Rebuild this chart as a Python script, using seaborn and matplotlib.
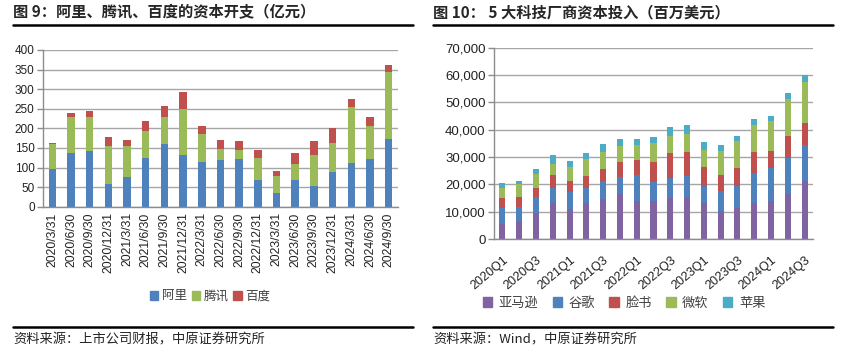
import numpy as np
import pandas as pd
import matplotlib
matplotlib.use("Agg")
import matplotlib.pyplot as plt
import seaborn as sns
from matplotlib.patches import Rectangle
from matplotlib.lines import Line2D
from matplotlib.ticker import FuncFormatter

# ---- Left chart data (亿元) ----
dates = ["2020/3/31", "2020/6/30", "2020/9/30", "2020/12/31", "2021/3/31", "2021/6/30",
         "2021/9/30", "2021/12/31", "2022/3/31", "2022/6/30", "2022/9/30", "2022/12/31",
         "2023/3/31", "2023/6/30", "2023/9/30", "2023/12/31", "2024/3/31", "2024/6/30",
         "2024/9/30"]
ali = [97, 136, 142, 59, 77, 125, 159, 133, 115, 119, 121, 69, 36, 69, 52, 89, 112, 121, 173]
tencent = [63, 94, 87, 95, 77, 69, 70, 117, 70, 29, 24, 56, 43, 40, 80, 74, 143, 86, 171]
baidu = [3, 10, 16, 23, 16, 26, 28, 42, 21, 23, 22, 20, 13, 27, 35, 37, 20, 23, 17]

# ---- Right chart data (百万美元) ----
quarters = ["2020Q1", "2020Q2", "2020Q3", "2020Q4", "2021Q1", "2021Q2", "2021Q3", "2021Q4",
            "2022Q1", "2022Q2", "2022Q3", "2022Q4", "2023Q1", "2023Q2", "2023Q3", "2023Q4",
            "2024Q1", "2024Q2", "2024Q3"]
amazon = [5500, 6500, 9600, 13000, 11100, 13000, 14600, 16500, 13800, 14000, 15000, 15500,
          13000, 10400, 11500, 13300, 14000, 16300, 21100]
google = [6000, 5300, 5600, 5700, 6100, 5700, 6700, 6300, 9700, 7000, 7400, 7700,
          6400, 7000, 7800, 11000, 12000, 13200, 13200]
facebook = [3600, 3600, 3600, 4600, 4100, 4300, 4400, 5400, 5400, 7300, 9200, 8600,
            6800, 6100, 6700, 7500, 6200, 8100, 8000]
microsoft = [3700, 4600, 5000, 4000, 5000, 6400, 6000, 5800, 5400, 6900, 6200, 6600,
             6400, 8800, 9700, 9800, 10800, 13700, 15000]
apple = [1800, 1300, 1700, 3600, 2200, 1900, 3100, 2700, 2400, 2200, 3300, 3300,
         3000, 2100, 2000, 2300, 2100, 2200, 2800]

left_names = ["阿里", "腾讯", "百度"]
right_names = ["亚马逊", "谷歌", "脸书", "微软", "苹果"]

BLUE, GREEN, RED, PURPLE, CYAN = "#4F81BD", "#9BBB59", "#C0504D", "#8064A2", "#4BACC6"

sns.set_style("white")
plt.rcParams['font.family'] = ['Liberation Sans', 'Noto Sans CJK SC']
CJK = ['Noto Sans CJK SC', 'Liberation Sans']

W, H = 845, 352
fig = plt.figure(figsize=(W / 100, H / 100), dpi=100)
ax1 = fig.add_axes([43 / W, 1 - 206.7 / H, (398 - 43) / W, (206.7 - 50) / H])
ax2 = fig.add_axes([494 / W, 1 - 239 / H, (813 - 494) / W, (239 - 47.7) / H])


def stacked(ax, cats, series, colors, width):
    cum = np.zeros(len(cats))
    cums = []
    for s in series:
        cum = cum + np.asarray(s, dtype=float)
        cums.append(cum.copy())
    for c, col in reversed(list(zip(cums, colors))):
        sns.barplot(x=cats, y=c, order=cats, color=col, width=width, ax=ax,
                    errorbar=None, saturation=1, linewidth=0)


def style_axis(ax):
    for s in ["top", "right"]:
        ax.spines[s].set_visible(False)
    for s in ["left", "bottom"]:
        ax.spines[s].set_color("#8C8C8C")
        ax.spines[s].set_linewidth(1.0)
    ax.yaxis.grid(True, color="#A6A6A6", lw=1.0)
    ax.set_axisbelow(True)
    ax.set_xlabel("")
    ax.set_ylabel("")
    ax.set_xlim(-0.5, 18.5)
    ax.set_xticks(np.arange(-0.5, 19, 1), minor=True)
    ax.tick_params(axis="x", which="minor", length=4, color="#8C8C8C", width=1)
    ax.tick_params(axis="x", which="major", length=0)
    ax.tick_params(axis="y", length=4, color="#8C8C8C", width=1, left=True)


# Left chart
stacked(ax1, dates, [ali, tencent, baidu], [BLUE, GREEN, RED], 0.4)
style_axis(ax1)
ax1.set_ylim(0, 400)
ax1.set_yticks(range(0, 401, 50))
ax1.set_xticks(range(len(dates)))
ax1.set_xticklabels(dates, rotation=90, fontsize=8.8, color="#222222")
ax1.tick_params(axis="x", which="major", pad=4)
ax1.tick_params(axis="y", labelsize=8.5, labelcolor="#222222", pad=2)

# Right chart
stacked(ax2, quarters, [amazon, google, facebook, microsoft, apple],
        [PURPLE, BLUE, RED, GREEN, CYAN], 0.36)
style_axis(ax2)
ax2.set_ylim(0, 70000)
ax2.set_yticks(range(0, 70001, 10000))
ax2.yaxis.set_major_formatter(FuncFormatter(lambda v, p: f"{v:,.0f}"))
ax2.set_xticks(range(0, len(quarters), 2))
ax2.set_xticklabels(quarters[::2], rotation=40, ha="right", rotation_mode="anchor",
                    fontsize=9, color="#222222")
ax2.tick_params(axis="x", which="major", pad=11)
ax2.tick_params(axis="y", labelsize=9.5, labelcolor="#222222", pad=2)

# Legends
h1 = [Rectangle((0, 0), 1, 1, color=c) for c in [BLUE, GREEN, RED]]
fig.legend(h1, left_names, loc="center", bbox_to_anchor=(210 / W, 1 - 296 / H), ncol=3,
           frameon=False, prop={"family": CJK, "size": 9}, handlelength=0.7,
           handleheight=0.7, handletextpad=0.25, columnspacing=0.4, labelcolor="#404040")
h2 = [Rectangle((0, 0), 1, 1, color=c) for c in [PURPLE, BLUE, RED, GREEN, CYAN]]
fig.legend(h2, right_names, loc="center", bbox_to_anchor=(624 / W, 1 - 303 / H), ncol=5,
           frameon=False, prop={"family": CJK, "size": 9.5}, handlelength=0.7,
           handleheight=0.7, handletextpad=0.5, columnspacing=1.1, labelcolor="#404040")

# Titles and rules
fig.text(13 / W, 1 - 12 / H, "图 9：阿里、腾讯、百度的资本开支（亿元）", fontsize=11,
         fontweight="bold", family=CJK, va="center", ha="left")
fig.text(433 / W, 1 - 12 / H, "图 10： 5 大科技厂商资本投入（百万美元）", fontsize=11,
         fontweight="bold", family=CJK, va="center", ha="left")
for x0, x1 in [(13, 413), (433, 833)]:
    fig.add_artist(Line2D([x0 / W, x1 / W], [1 - 24.5 / H] * 2, color="black", lw=1.8))
    fig.add_artist(Line2D([x0 / W, x1 / W], [1 - 327 / H] * 2, color="black", lw=1.8))

fig.text(13 / W, 1 - 340 / H, "资料来源：上市公司财报，中原证券研究所", fontsize=9.5,
         family=CJK, va="center", ha="left", color="#222222")
fig.text(433 / W, 1 - 340 / H, "资料来源：Wind，中原证券研究所", fontsize=9.5,
         family=CJK, va="center", ha="left", color="#222222")

fig.savefig("out.png", dpi=100)
